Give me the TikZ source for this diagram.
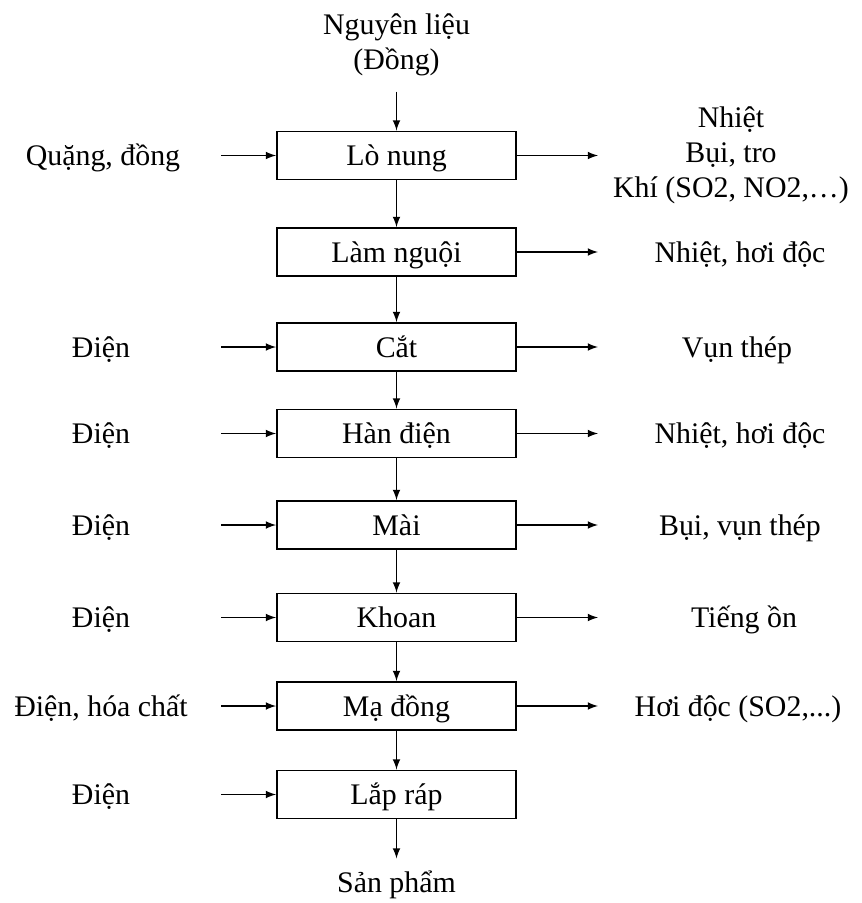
\documentclass[tikz,border=0pt]{standalone}
\usepackage{fontspec}
\setmainfont{Liberation Serif}
\usetikzlibrary{arrows}

\begin{document}
\begin{tikzpicture}[
			scale=1.0,
			every node/.style={font=\fontsize{17pt}{19.9pt}\selectfont, align=center},
			stage/.style={rectangle,draw=black,line width=1.1pt,fill=white,
			inner sep=0pt,minimum width=4.78cm,minimum height=0.96cm,
			text height=0.5cm,text depth=0.1cm},
			tag/.style={inner sep=0pt,text height=0.5cm,text depth=0.1cm},
			flow/.style={>=latex,draw=black,line width=1pt,->}
			]
			\useasboundingbox (0,0) rectangle (17.22,-18.06);
			% cac cong doan
			\node[stage] (s1) at (7.93,-3.11)  {Lò nung};
			\node[stage] (s2) at (7.93,-5.04)  {Làm nguội};
			\node[stage] (s3) at (7.93,-6.94)  {Cắt};
			\node[stage] (s4) at (7.93,-8.67)  {Hàn điện};
			\node[stage] (s5) at (7.93,-10.50) {Mài};
			\node[stage] (s6) at (7.93,-12.35) {Khoan};
			\node[stage] (s7) at (7.93,-14.12) {Mạ đồng};
			\node[stage] (s8) at (7.93,-15.89) {Lắp ráp};
			% dau vao, dau ra
			\node (top) at (7.93,-0.90) {Nguyên liệu\\(Đồng)};
			\node[tag] (bot) at (7.93,-17.64) {Sản phẩm};
			\node[tag] (in1) at (2.06,-3.11)  {Quặng, đồng};
			\node[tag] (in3) at (2.02,-6.94)  {Điện};
			\node[tag] (in4) at (2.02,-8.67)  {Điện};
			\node[tag] (in5) at (2.02,-10.50) {Điện};
			\node[tag] (in6) at (2.02,-12.35) {Điện};
			\node[tag] (in7) at (2.02,-14.12) {Điện, hóa chất};
			\node[tag] (in8) at (2.02,-15.89) {Điện};
			\node (out1) at (14.62,-3.11)  {Nhiệt\\Bụi, tro\\Khí (SO2, NO2,…)};
			\node[tag] (out2) at (14.80,-5.04)  {Nhiệt, hơi độc};
			\node[tag] (out3) at (14.74,-6.94)  {Vụn thép};
			\node[tag] (out4) at (14.80,-8.67)  {Nhiệt, hơi độc};
			\node[tag] (out5) at (14.80,-10.50) {Bụi, vụn thép};
			\node[tag] (out6) at (14.88,-12.35) {Tiếng ồn};
			\node[tag] (out7) at (14.76,-14.12) {Hơi độc (SO2,...)};
			% mui ten doc
			\draw[flow] ([yshift=0.78cm]s1.north) -- (s1.north);
			\draw[flow] (s1) -- (s2);
			\draw[flow] (s2) -- (s3);
			\draw[flow] (s3) -- (s4);
			\draw[flow] (s4) -- (s5);
			\draw[flow] (s5) -- (s6);
			\draw[flow] (s6) -- (s7);
			\draw[flow] (s7) -- (s8);
			\draw[flow] (s8.south) -- ([yshift=-0.78cm]s8.south);
			% mui ten ngang
			\draw[flow] ([xshift=-1.1cm]s1.west) -- (s1.west);
			\draw[flow] ([xshift=-1.1cm]s3.west) -- (s3.west);
			\draw[flow] ([xshift=-1.1cm]s4.west) -- (s4.west);
			\draw[flow] ([xshift=-1.1cm]s5.west) -- (s5.west);
			\draw[flow] ([xshift=-1.1cm]s6.west) -- (s6.west);
			\draw[flow] ([xshift=-1.1cm]s7.west) -- (s7.west);
			\draw[flow] ([xshift=-1.1cm]s8.west) -- (s8.west);
			\draw[flow] (s1.east) -- ([xshift=1.62cm]s1.east);
			\draw[flow] (s2.east) -- ([xshift=1.62cm]s2.east);
			\draw[flow] (s3.east) -- ([xshift=1.62cm]s3.east);
			\draw[flow] (s4.east) -- ([xshift=1.62cm]s4.east);
			\draw[flow] (s5.east) -- ([xshift=1.62cm]s5.east);
			\draw[flow] (s6.east) -- ([xshift=1.62cm]s6.east);
			\draw[flow] (s7.east) -- ([xshift=1.62cm]s7.east);
		\end{tikzpicture}
\end{document}
